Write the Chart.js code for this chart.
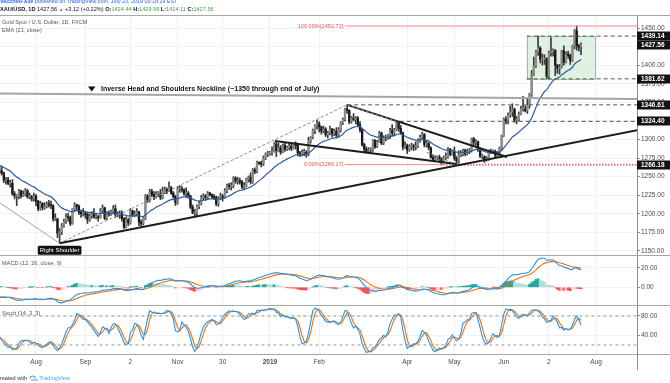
<!DOCTYPE html>
<html>
<head>
<meta charset="utf-8">
<script src="https://cdn.jsdelivr.net/npm/chart.js@4.4.1/dist/chart.umd.min.js"></script>
<style>
  body { margin: 0; background: #fff; width: 670px; height: 383px; overflow: hidden; position: relative; }
  canvas { position: absolute; left: 0; }
  .sep { position: absolute; left: 0; width: 670px; height: 1px; background: #a8a8a8; }
  .vax { position: absolute; left: 637px; width: 1px; background: #8a8a8a; }
</style>
</head>
<body>
<canvas id="main" width="670" height="255" style="top:0"></canvas>
<canvas id="macd" width="670" height="50" style="top:255px"></canvas>
<canvas id="stoch" width="670" height="78" style="top:305px"></canvas>
<div class="sep" style="top:15px"></div>
<div class="sep" style="top:255px"></div>
<div class="sep" style="top:305px"></div>
<div class="sep" style="top:354px"></div>
<div class="vax" style="top:354px;height:16px"></div>

<script>
/* ========================================
   DATA  (XAU/USD daily, Jul 9 2018 - Jul 23 2019)
======================================== */
// closes before the first visible bar, only used to warm up the indicators
const warmupClose = [1298, 1302, 1298, 1294, 1291, 1297, 1297, 1299, 1298, 1299, 1294, 1299, 1302, 1278,
  1278, 1274, 1266, 1263, 1269, 1266, 1258, 1252, 1248, 1253, 1241, 1253, 1253, 1256, 1255];

const open = [
  1255,1258,1255,1245,1246,1241,1241,1227,1224,1224,1231,1224,1226,1231,1223,1223,1220,
  1224,1217,1207,1214,1208,1210,1213,1212,1211,1193,1193,1174,1176,1184,1190,1196,1195,1187,1206,1212,1210,1202,1200,
  1201,1199,1192,1197,1200,1196,1196,1195,1204,1208,1194,1201,1199,1203,1207,1199,1199,1201,1194,1182,
  1192,1188,1204,1198,1200,1203,1189,1187,1194,1224,1218,1230,1226,1223,1227,1227,1222,1230,1233,1231,1235,1228,1223,
  1215,1233,1233,1232,1227,1228,1224,1209,1201,1201,1210,1214,1222,1224,1222,1228,1226,1223,1222,1213,1221,1224,
  1222,1231,1238,1237,1238,1248,1244,1244,1243,1236,1238,1246,1249,1243,1259,1257,1269,1268,1267,1275,1280,
  1281,1282,1284,1294,1285,1289,1283,1292,1287,1289,1291,1288,1293,1292,1282,1280,1283,1283,1281,1298,1303,1312,1319,
  1321,1317,1311,1314,1306,1309,1314,1308,1311,1306,1313,1322,1327,1341,1339,1324,1329,1327,1329,1320,
  1313,1293,1287,1284,1286,1286,1299,1290,1297,1309,1295,1302,1302,1306,1312,1309,1313,1322,1315,1309,1290,
  1292,1286,1291,1291,1290,1291,1298,1303,1307,1293,1295,1289,1276,1273,1275,1276,1275,1270,1276,1277,1287,1280,
  1284,1275,1271,1279,1281,1285,1281,1284,1286,1301,1296,1297,1286,1277,1277,1273,1274,1283,1284,1284,1279,1280,1288,
  1305,1327,1325,1333,1337,1341,1326,1327,1334,1341,1341,1339,1346,1360,1387,1399,1418,1423,1408,1408,
  1409,1385,1417,1418,1420,1400,1396,1397,1419,1404,1415,1413,1406,1426,1446,1426,1424.44
];
const high = [
  1265,1263,1256,1249,1249,1245,1246,1230,1226,1233,1232,1231,1234,1233,1228,1225,1228,
  1226,1218,1217,1215,1215,1216,1218,1217,1212,1200,1194,1180,1187,1193,1200,1201,1197,1207,1215,1213,1212,1205,1207,
  1203,1202,1200,1203,1207,1200,1198,1207,1212,1209,1203,1204,1205,1211,1212,1203,1204,1204,1195,1196,
  1194,1207,1205,1204,1207,1203,1192,1195,1226,1226,1233,1233,1230,1230,1230,1233,1236,1236,1235,1243,1237,1230,1225,
  1237,1238,1237,1234,1235,1230,1225,1212,1206,1212,1217,1225,1227,1226,1230,1229,1227,1226,1224,1223,1228,1226,
  1234,1240,1241,1242,1250,1250,1249,1248,1245,1242,1248,1251,1255,1261,1262,1271,1270,1271,1278,1282,1284,
  1284,1290,1296,1298,1295,1292,1294,1296,1291,1295,1295,1295,1297,1293,1284,1286,1287,1285,1303,1304,1314,1320,1326,
  1324,1318,1318,1316,1311,1318,1315,1314,1316,1316,1324,1329,1342,1346.61,1340,1331,1335,1331,1331,1324,
  1314,1295,1290,1289,1289,1300,1300,1299,1311,1310,1305,1306,1307,1315,1320,1315,1324.4,1323,1319,1310,1297,
  1294,1293,1295,1294,1297,1301,1306,1310,1308,1299,1296,1290,1279,1278,1278,1279,1276,1278,1282,1289,1288,1286,
  1290,1277,1285,1285,1287,1287,1287,1288,1302,1303,1300,1298,1288,1280,1278,1277,1286,1287,1286,1286,1284,1290,1306,
  1329,1331,1336,1345,1348,1342,1331,1337,1345,1358,1345,1354,1362,1393,1411,1420,1439.14,1425,1415,1414,
  1410,1419,1437,1422,1421,1401,1401,1420,1426,1418,1419,1415,1427,1448,1452.72,1428,1429.99
];
const low = [
  1254,1252,1242,1240,1239,1236,1225,1220,1211,1220,1221,1223,1224,1221,1220,1217,1217,
  1211,1204,1205,1205,1206,1208,1209,1207,1190,1191,1168,1160.4,1172,1182,1187,1190,1184,1186,1203,1205,1199,1195,1197,
  1194,1187,1190,1194,1194,1193,1190,1194,1201,1192,1192,1197,1198,1200,1195,1196,1194,1190,1180,1181,
  1184,1186,1196,1196,1197,1184,1182,1185,1192,1215,1216,1223,1219,1221,1223,1219,1220,1227,1227,1230,1226,1221,1211,
  1213,1229,1229,1225,1222,1221,1207,1200,1196,1198,1207,1212,1219,1218,1220,1224,1220,1219,1211,1210,1219,1217,
  1221,1228,1233,1232,1235,1241,1240,1240,1234,1233,1236,1243,1240,1241,1254,1255,1266,1263,1265,1273,1277,
  1279,1279,1283,1277,1284,1280,1282,1284,1285,1286,1285,1287,1287,1278,1277,1278,1278,1276,1278,1295,1301,1308,1314,
  1310,1307,1309,1304,1302,1306,1303,1305,1302,1303,1310,1320,1325,1335,1321,1322,1325,1321,1317,1310,
  1291,1282,1282,1281,1281,1284,1288,1289,1296,1293,1293,1298,1300,1301,1305,1305,1312,1311,1307,1286,1288,
  1281,1284,1286,1285,1286,1289,1296,1301,1290,1290,1286,1275,1272,1270,1273,1270,1266.17,1269,1273,1275,1278,1279,
  1272,1266.3,1268,1277,1278,1278,1279,1281,1283,1293,1292,1284,1276,1274,1269,1271,1272,1281,1281,1276,1277,1279,1286,
  1304,1321,1321,1330,1331,1323,1321,1325,1333,1338,1337,1335,1342,1358,1386,1397,1413,1403,1400,1401,
  1381.62,1382,1412,1412,1386,1389,1388,1396,1400,1403,1409,1401,1405,1422,1420,1419,1414.11
];
const close = [
  1258,1255,1245,1246,1241,1241,1227,1224,1224,1231,1224,1226,1231,1223,1223,1220,1224,
  1217,1207,1214,1208,1210,1213,1212,1211,1193,1193,1174,1176,1184,1190,1196,1195,1187,1206,1212,1210,1202,1200,1201,
  1199,1192,1197,1200,1196,1196,1195,1204,1208,1194,1201,1199,1203,1207,1199,1199,1201,1194,1182,1192,
  1188,1204,1198,1200,1203,1189,1187,1194,1224,1218,1230,1226,1223,1227,1227,1222,1230,1233,1231,1235,1228,1223,1215,
  1233,1233,1232,1227,1228,1224,1209,1201,1201,1210,1214,1222,1224,1222,1228,1226,1223,1222,1213,1221,1224,1222,
  1231,1238,1237,1238,1248,1244,1244,1243,1236,1238,1246,1249,1243,1259,1257,1269,1268,1267,1275,1280,1281,
  1282,1284,1294,1285,1289,1283,1292,1287,1289,1291,1288,1293,1292,1282,1280,1283,1283,1281,1298,1303,1312,1319,1321,
  1317,1311,1314,1306,1309,1314,1308,1311,1306,1313,1322,1327,1341,1339,1324,1329,1327,1329,1320,1313,
  1293,1287,1284,1286,1286,1299,1290,1297,1309,1295,1302,1302,1306,1312,1309,1313,1322,1315,1309,1290,1292,
  1286,1291,1291,1290,1291,1298,1303,1307,1293,1295,1289,1276,1273,1275,1276,1275,1270,1276,1277,1287,1280,1284,
  1275,1271,1279,1281,1285,1281,1284,1286,1301,1296,1297,1286,1277,1277,1273,1274,1283,1284,1284,1279,1280,1288,1305,
  1327,1325,1333,1337,1341,1326,1327,1334,1341,1341,1339,1346,1360,1387,1399,1418,1423,1408,1408,1409,
  1385,1417,1418,1420,1400,1396,1397,1419,1404,1415,1413,1406,1426,1446,1426,1424,1427.56
];

// date axis (bar index of each label)
const tickIdx  = [17, 40, 61, 83, 104, 126, 149, 190, 212, 235, 256, 278];
const tickText = ["Aug", "Sep", "2", "Nov", "30", "2019", "Feb", "Apr", "May", "Jun", "2", "Aug"];

const priceTicks = [1150, 1175, 1200, 1225, 1250, 1275, 1300, 1325, 1350, 1375, 1400, 1425, 1450];
const macdTicks  = [0, 20];
const stochTicks = [40, 80];
const priceLabels = [1439.14, 1427.56, 1381.62, 1346.61, 1324.40, 1266.18];

/* ========================================
   DRAWINGS (chart annotations, data coords)
======================================== */
const X_MIN = 0.222, X_MAX = 297.1;
const GRAY = "#8a8a8a", INK = "#1d1d1d", FIB = "#f28b82";
const drawings = [
  { pts: [[-1, 1362], [298, 1354.4]], color: "#a5a5a5", w: 2 },            // neckline
  { pts: [[-1, 1217], [28, 1160.4]], color: "#a0a0a0", w: 1 },             // right shoulder leg
  { pts: [[28, 1160.4], [298, 1313]], color: INK, w: 2 },                  // rising support
  { pts: [[28, 1160.4], [162, 1346.61]], color: GRAY, w: 1, dash: [3, 2] },
  { pts: [[162, 1346.61], [185, 1324.4]], color: GRAY, w: 1, dash: [3, 2] },
  { pts: [[199, 1283], [211, 1269]], color: GRAY, w: 1, dash: [3, 2] },
  { pts: [[162, 1346.61], [236.5, 1276.5]], color: INK, w: 2 },            // wedge top
  { pts: [[128.3, 1298], [213, 1267]], color: INK, w: 2 },                 // wedge bottom
  { pts: [[162, 1346.61], [298, 1346.61]], color: "#555", w: 1, dash: [4, 3] },
  { pts: [[186.5, 1324.4], [298, 1324.4]], color: "#555", w: 1, dash: [4, 3] },
  { pts: [[245.7, 1439.14], [298, 1439.14]], color: "#555", w: 1, dash: [4, 3] },
  { pts: [[245.7, 1381.62], [298, 1381.62]], color: "#555", w: 1, dash: [4, 3] },
  { pts: [[160.8, 1452.72], [298, 1452.72]], color: FIB, w: 1 },
  { pts: [[160.8, 1266.17], [205.3, 1266.17]], color: FIB, w: 1 },
  { pts: [[205.3, 1266.18], [298, 1266.18]], color: "#e57373", w: 2, dash: [1.5, 1.5] }
];
const box = { from: 245.7, to: 277.5, top: 1439.14, bottom: 1381.62 };

/* ========================================
   INDICATORS
======================================== */
function emaOf(src, n) {
  const k = 2 / (n + 1), out = [];
  src.forEach((v, i) => out.push(i ? v * k + out[i - 1] * (1 - k) : v));
  return out;
}
function smaOf(src, n) {
  return src.map((v, i) => {
    const a = src.slice(Math.max(0, i - n + 1), i + 1);
    return a.reduce((s, x) => s + x, 0) / a.length;
  });
}

const W = warmupClose.length;
const allClose = warmupClose.concat(close);
const ema21 = emaOf(allClose, 21).slice(W);
const e12 = emaOf(allClose, 12), e26 = emaOf(allClose, 26);
const macdAll = e12.map((v, i) => v - e26[i]);
const sigAll = emaOf(macdAll, 9);
const macd = macdAll.slice(W), signal = sigAll.slice(W);
const hist = macd.map((v, i) => v - signal[i]);

const rawK = close.map((c, i) => {
  const f = Math.max(0, i - 13);
  const hh = Math.max(...high.slice(f, i + 1)), ll = Math.min(...low.slice(f, i + 1));
  return hh === ll ? 50 : 100 * (c - ll) / (hh - ll);
});
const stochK = smaOf(rawK, 3), stochD = smaOf(stochK, 3);

/* ========================================
   SHARED OPTIONS
======================================== */
const FONT = '"Liberation Sans", Arial, sans-serif';
Chart.defaults.font.family = FONT;
const GRID = "#eef1f5";

function xAxis(show) {
  return {
    type: "linear", min: X_MIN, max: X_MAX, offset: false,
    afterBuildTicks: s => { s.ticks = tickIdx.map(v => ({ value: v })); },
    ticks: {
      display: show, autoSkip: false, maxRotation: 0, padding: 4, color: "#4a4a4a",
      font: c => ({ size: 6.5, family: FONT, weight: tickText[c.index] === "2019" ? "bold" : "normal" }),
      callback: (v, k) => tickText[k]
    },
    grid: { color: GRID, drawTicks: false, offset: false },
    border: { display: false },
    afterFit: s => { s.height = show ? 16 : 0; s.paddingLeft = 0; s.paddingRight = 0; }
  };
}
function yAxis(min, max, ticks) {
  return {
    type: "linear", position: "right", min, max, bounds: "data",
    afterBuildTicks: s => { s.ticks = ticks.map(v => ({ value: v })); },
    ticks: { color: "#4a4a4a", padding: 1, font: { size: 6.5, family: FONT }, callback: v => v.toFixed(2) },
    grid: { color: GRID, tickLength: 3, tickColor: "#8a8a8a" },
    border: { color: "#8a8a8a" },
    afterFit: s => { s.width = 33; s.paddingTop = 0; s.paddingBottom = 0; }
  };
}
function baseOptions(pad, showX, yMin, yMax, yTicks) {
  return {
    responsive: false, animation: false, devicePixelRatio: 1, events: [],
    layout: { padding: pad },
    plugins: { legend: { display: false }, tooltip: { enabled: false } },
    scales: { x: xAxis(showX), y: yAxis(yMin, yMax, yTicks) }
  };
}
const pts = arr => arr.map((v, i) => ({ x: i, y: v }));
const lineDs = (data, color, w, order, dash) => ({
  type: "line", data, borderColor: color, borderWidth: w, borderDash: dash || [],
  pointRadius: 0, fill: false, tension: 0, order
});

function runs(ctx, list, x, y) {
  list.forEach(([t, f, col]) => {
    ctx.font = f + " " + FONT;
    ctx.fillStyle = col;
    ctx.fillText(t, x, y);
    x += ctx.measureText(t).width;
  });
}

/* ========================================
   MAIN PRICE PANE
======================================== */
const mainDecor = {
  id: "mainDecor",
  beforeDatasetsDraw(c) {
    const { ctx, scales: { x, y } } = c;
    const l = x.getPixelForValue(box.from), r = x.getPixelForValue(box.to);
    const t = y.getPixelForValue(box.top), b = y.getPixelForValue(box.bottom);
    ctx.save();
    ctx.fillStyle = "rgba(200,230,201,0.55)";
    ctx.fillRect(l, t, r - l, b - t);
    ctx.strokeStyle = "rgba(129,199,132,0.9)";
    ctx.lineWidth = 1;
    ctx.strokeRect(Math.round(l) + 0.5, Math.round(t) + 0.5, Math.round(r - l), Math.round(b - t));
    ctx.restore();
  },
  afterDraw(c) {
    const { ctx, scales: { x, y } } = c;
    ctx.save();
    ctx.textBaseline = "middle";
    ctx.textAlign = "left";

    // header
    const G = "#43a047", K = "#131722";
    runs(ctx, [["VecchioFX3e", "bold 5.4px", "#2962ff"],
      [" published on TradingView.com, July 23, 2019 09:18:19 EST", "5.4px", "#2962ff"]], 0, 2);
    runs(ctx, [["XAU/USD, 1D", "bold 5.6px", K], [" 1427.56 ", "5.6px", K], ["\u25B2", "4.8px", G],
      [" +3.12 (+0.22%) ", "5.6px", K], ["O:", "bold 5.6px", K], ["1424.44", "5.6px", G],
      [" H:", "bold 5.6px", K], ["1429.99", "5.6px", G], [" L:", "bold 5.6px", K], ["1414.11", "5.6px", G],
      [" C:", "bold 5.6px", K], ["1427.56", "5.6px", G]], 0, 9.5);

    // pane titles
    ctx.font = "5.6px " + FONT;
    ctx.fillStyle = "#555";
    ctx.fillText("Gold Spot / U.S. Dollar, 1D, FXCM", 2, 22.5);
    ctx.fillText("EMA (21, close)", 2, 30.5);

    // fib labels
    ctx.textAlign = "right";
    ctx.fillStyle = "#ef5350";
    const fx = x.getPixelForValue(160.4);
    ctx.fillText("100.00%(1452.72)", fx, y.getPixelForValue(1452.72));
    ctx.fillText("0.00%(1266.17)", fx, y.getPixelForValue(1266.17));

    // neckline label
    ctx.textAlign = "left";
    ctx.fillStyle = "#111";
    ctx.beginPath();
    ctx.moveTo(88, 86.5); ctx.lineTo(95.5, 86.5); ctx.lineTo(91.75, 91.5); ctx.closePath();
    ctx.fill();
    ctx.font = "bold 7px " + FONT;
    ctx.fillText("Inverse Head and Shoulders Neckline (~1350 through end of July)", 101, 89.5);

    // right shoulder tag
    const sx = x.getPixelForValue(28), sy = y.getPixelForValue(1160.4) + 7;
    ctx.font = "6px " + FONT;
    const sw = ctx.measureText("Right Shoulder").width + 4;
    ctx.fillStyle = "#111";
    ctx.beginPath();
    ctx.roundRect(sx - sw / 2, sy - 4.5, sw, 9, 1.5);
    ctx.fill();
    ctx.fillStyle = "#fff";
    ctx.textAlign = "center";
    ctx.fillText("Right Shoulder", sx, sy + 0.5);

    // price boxes on the axis
    ctx.textAlign = "left";
    ctx.font = "bold 6.5px " + FONT;
    priceLabels.forEach(v => {
      const py = Math.round(y.getPixelForValue(v));
      ctx.fillStyle = "#131313";
      ctx.fillRect(637, py - 4.5, 33, 9);
      ctx.fillStyle = "#fff";
      ctx.fillText(v.toFixed(2), 641, py + 0.5);
    });
    ctx.restore();
  }
};

const mainOpts = baseOptions({ top: 15, left: 0, right: 0, bottom: 0 }, false, 1144.6, 1467.5, priceTicks);

new Chart(document.getElementById("main"), {
  type: "line",
  data: {
    datasets: [
      ...drawings.map(d => lineDs(d.pts.map(p => ({ x: p[0], y: p[1] })), d.color, d.w, 0, d.dash)),
      lineDs(pts(ema21), "#2d5aa6", 1.2, 1),
      {
        type: "bar", order: 2, grouped: false, barThickness: 1.7, minBarLength: 1,
        data: close.map((c, i) => ({ x: i, y: [open[i], c] })),
        backgroundColor: close.map((c, i) => c >= open[i] ? "#8c8c8c" : "#1a1a1a")
      },
      {
        type: "bar", order: 3, grouped: false, barThickness: 1,
        data: close.map((c, i) => ({ x: i, y: [low[i], high[i]] })),
        backgroundColor: "#3a3a3a"
      }
    ]
  },
  options: mainOpts,
  plugins: [mainDecor]
});

/* ========================================
   MACD PANE
======================================== */
const histColors = hist.map((h, i) => {
  const p = i ? hist[i - 1] : h;
  return h >= 0 ? (h >= p ? "#26a69a" : "#b2dfdb") : (h < p ? "#ff5252" : "#ffcdd2");
});
const macdTitle = {
  id: "macdTitle",
  afterDraw(c) {
    const ctx = c.ctx;
    ctx.save();
    ctx.font = "5.6px " + FONT;
    ctx.fillStyle = "#555";
    ctx.textBaseline = "middle";
    ctx.fillText("MACD (12, 26, close, 9)", 2, 8.5);
    ctx.restore();
  }
};
new Chart(document.getElementById("macd"), {
  type: "line",
  data: {
    datasets: [
      lineDs(pts(macd), "#2196f3", 1.1, 0),
      lineDs(pts(signal), "#ff6d00", 1.1, 1),
      {
        type: "bar", order: 2, grouped: false, barThickness: 2.2,
        data: pts(hist), backgroundColor: histColors
      }
    ]
  },
  options: baseOptions({ top: 0, left: 0, right: 0, bottom: 0 }, false, -18.1, 33, macdTicks),
  plugins: [macdTitle]
});

/* ========================================
   STOCH PANE + DATE AXIS
======================================== */
const stochDecor = {
  id: "stochDecor",
  afterDraw(c) {
    const ctx = c.ctx;
    ctx.save();
    ctx.font = "5.6px " + FONT;
    ctx.textBaseline = "middle";
    ctx.fillStyle = "#555";
    ctx.fillText("Stoch (14, 3, 3)", 2, 8.5);
    ctx.fillStyle = "#333";
    ctx.fillText("created with", -3, 73);
    const lx = ctx.measureText("created with").width;
    ctx.strokeStyle = "#42a5f5";
    ctx.lineWidth = 1.2;
    ctx.beginPath();
    ctx.arc(lx + 2.5, 73.5, 2.5, Math.PI, 0);
    ctx.moveTo(lx + 1, 75); ctx.lineTo(lx + 8, 75);
    ctx.stroke();
    ctx.fillStyle = "#42a5f5";
    ctx.fillText("TradingView", lx + 9, 73);
    ctx.restore();
  }
};
const bandData = v => [{ x: -1, y: v }, { x: 298, y: v }];
new Chart(document.getElementById("stoch"), {
  type: "line",
  data: {
    datasets: [
      lineDs(pts(stochK), "#2196f3", 1.1, 0),
      lineDs(pts(stochD), "#ff6d00", 1.1, 1),
      lineDs(bandData(80), "#9a9a9a", 1, 2, [3, 3]),
      lineDs(bandData(20), "#9a9a9a", 1, 2, [3, 3])
    ]
  },
  options: baseOptions({ top: 0, left: 0, right: 0, bottom: 13 }, true, 1.2, 102.8, stochTicks),
  plugins: [stochDecor]
});
</script>
</body>
</html>
